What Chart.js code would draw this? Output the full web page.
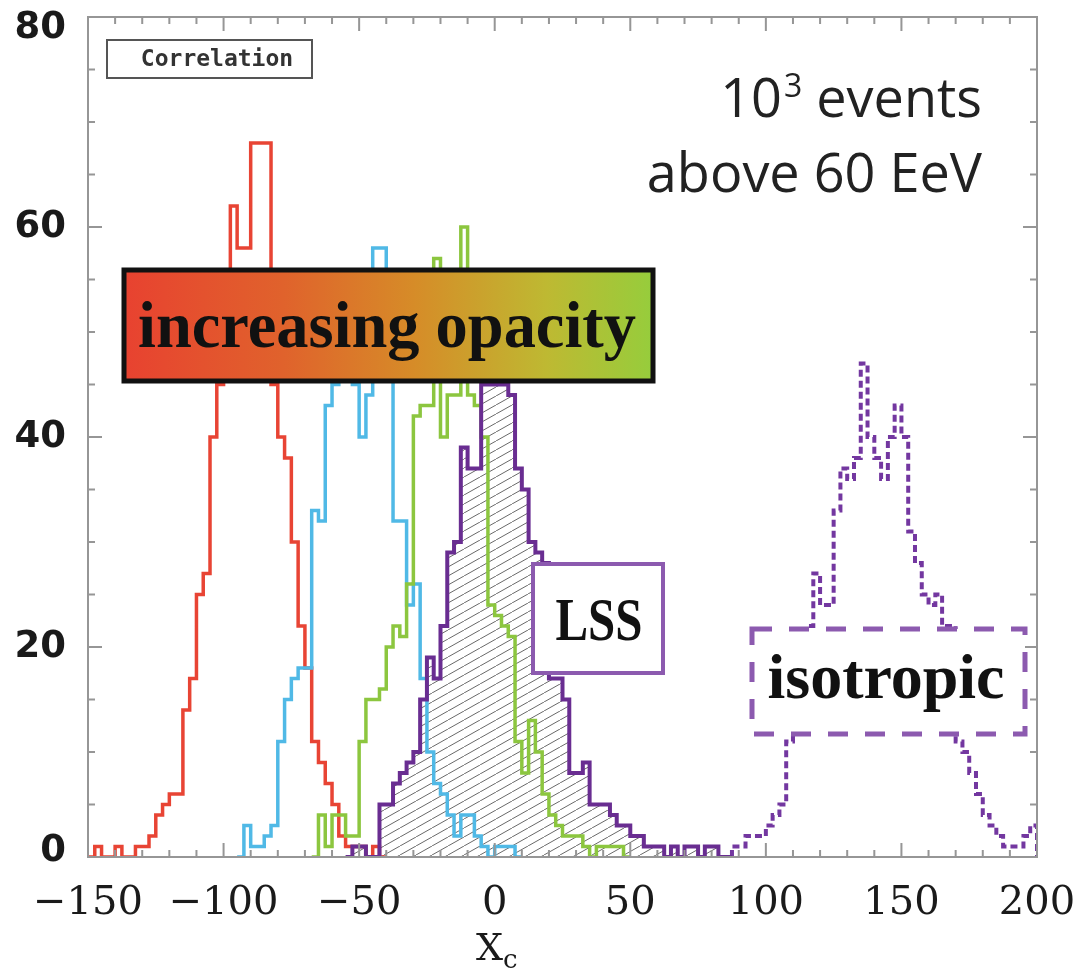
<!DOCTYPE html>
<html>
<head>
<meta charset="utf-8">
<script src="https://cdn.jsdelivr.net/npm/chart.js@4.4.0/dist/chart.umd.min.js"></script>
<style>
  html, body { margin: 0; padding: 0; background: #fff; }
  #wrap { width: 1082px; height: 973px; position: relative; }
</style>
</head>
<body>
<div id="wrap"><canvas id="myChart"></canvas></div>
<script>
// histogram data, bin width 2.5 in X_c, counts per bin starting at the given left edge
const binWidth = 2.5;

const redStart = -150;
const redCounts = [0,1,0,0,1,0,0,1,1,2,4,5,6,6,14,17,25,27,40,45,50,62,58,58,68,68,68,45,40,38,30,22,18,11,9,7,5,2,1,1,1,0,1,0];

const blueStart = -95;
const blueCounts = [0,3,1,1,2,3,11,15,17,18,18,33,32,43,45,50,50,45,40,44,58,58,46,32,32,24,26,17,10,7,6,4,2,4,4,2,1,0,1,1,1,0];

const greenStart = -67.5;
const greenCounts = [0,4,1,4,4,2,2,11,15,15,16,20,22,21,26,42,43,43,57,40,44,44,60,44,43,40,24,23,22,21,11,8,13,10,6,4,3,2,2,2,1,0,1,1,1,1,0];

const lssStart = -55;
const lssCounts = [0,1,1,0,0,5,5,7,8,9,10,15,19,17,22,29,30,39,37,37,45,45,45,45,44,37,35,30,29,28,17,17,15,8,8,9,5,5,5,4,3,3,2,2,1,1,1,0,1,0,1,1,0,1,1,0,0];

const isoStart = 87.5;
const isoCounts = [1,1,2,2,2,3,4,5,11,12,18,22,27,24,24,33,37,36,38,47,40,38,36,40,43,40,31,28,25,24,25,22,22,11,10,8,6,4,3,2,1,1,1,2,3];

const xTicks = [-150, -100, -50, 0, 50, 100, 150, 200];
const yTicks = [0, 20, 40, 60, 80];

function histPoints(start, counts) {
  var pts = [{x: start, y: 0}];
  counts.forEach(function(c, i) { pts.push({x: start + i * binWidth, y: c}); });
  pts.push({x: start + counts.length * binWidth, y: 0});
  return pts;
}

var canvas = document.getElementById('myChart');
var ctx0 = canvas.getContext('2d');

// diagonal hatch for the LSS histogram
var tile = document.createElement('canvas');
tile.width = 16; tile.height = 9;
var tg = tile.getContext('2d');
tg.strokeStyle = 'rgb(105,105,105)';
tg.lineWidth = 1;
tg.beginPath();
tg.moveTo(0, 9); tg.lineTo(16, 0);
tg.moveTo(-16, 9); tg.lineTo(0, 0);
tg.moveTo(16, 9); tg.lineTo(32, 0);
tg.stroke();
var hatch = ctx0.createPattern(tile, 'repeat');

function fitText(ctx, text, cx, base, font, width) {
  ctx.save();
  ctx.font = font;
  var w = ctx.measureText(text).width;
  ctx.translate(cx, base);
  ctx.scale(width / w, 1);
  ctx.textAlign = 'center';
  ctx.textBaseline = 'alphabetic';
  ctx.fillText(text, 0, 0);
  ctx.restore();
}

//=========================== axes frame, ticks, labels, boxes ===========================
const framePlugin = {
  id: 'frame',
  afterDraw: function(chart) {
    var ctx = chart.ctx, a = chart.chartArea;
    var xs = chart.scales.x, ys = chart.scales.y;
    ctx.save();
    ctx.strokeStyle = 'rgb(150,150,150)';
    ctx.lineWidth = 2;
    ctx.strokeRect(a.left, a.top, a.right - a.left, a.bottom - a.top);

    ctx.beginPath();
    for (var v = -150; v <= 200; v += 10) {
      var px = xs.getPixelForValue(v);
      var len = (v % 50 === 0) ? 14 : 7;
      ctx.moveTo(px, a.bottom); ctx.lineTo(px, a.bottom - len);
      ctx.moveTo(px, a.top); ctx.lineTo(px, a.top + len);
    }
    for (var w = 0; w <= 80; w += 5) {
      var py = ys.getPixelForValue(w);
      var l2 = (w % 20 === 0) ? 14 : 7;
      ctx.moveTo(a.left, py); ctx.lineTo(a.left + l2, py);
      ctx.moveTo(a.right, py); ctx.lineTo(a.right - l2, py);
    }
    ctx.stroke();

    // tick labels
    ctx.fillStyle = '#1a1a1a';
    ctx.font = '40px "DejaVu Serif"';
    ctx.textAlign = 'center';
    ctx.textBaseline = 'middle';
    xTicks.forEach(function(t) {
      ctx.fillText(String(t).replace('-', '\u2212'), xs.getPixelForValue(t), 904);
    });
    ctx.font = 'bold 37px "DejaVu Sans"';
    ctx.textAlign = 'right';
    yTicks.forEach(function(t) {
      var py = ys.getPixelForValue(t);
      if (t === 80) py += 11;
      if (t === 0) py -= 6;
      ctx.fillText(String(t), 66, py);
    });

    // axis title X_c
    ctx.textAlign = 'left';
    ctx.textBaseline = 'alphabetic';
    ctx.font = '38px "DejaVu Serif"';
    ctx.fillText('X', 476, 960);
    ctx.font = '26px "DejaVu Serif"';
    ctx.fillText('c', 503, 968);

    // Correlation box
    ctx.strokeStyle = '#555';
    ctx.lineWidth = 2;
    ctx.strokeRect(107, 40, 205, 38);
    ctx.fillStyle = '#333';
    ctx.font = 'bold 23px "DejaVu Sans Mono"';
    ctx.textAlign = 'center';
    ctx.textBaseline = 'middle';
    ctx.fillText('Correlation', 217, 60);

    // 10^3 events above 60 EeV
    ctx.fillStyle = '#222';
    ctx.textBaseline = 'alphabetic';
    ctx.textAlign = 'right';
    ctx.font = '54px "Open Sans"';
    ctx.fillText('events', 982, 117);
    var ew = ctx.measureText(' events').width;
    ctx.font = '32px "Open Sans"';
    ctx.fillText('3', 982 - ew, 97);
    var sw = ctx.measureText('3').width;
    ctx.font = '54px "Open Sans"';
    ctx.fillText('10', 982 - ew - sw - 2, 117);
    ctx.fillText('above 60 EeV', 982, 192);

    // increasing opacity box
    var grad = ctx.createLinearGradient(124, 0, 653, 0);
    grad.addColorStop(0, 'rgb(232,66,48)');
    grad.addColorStop(0.3, 'rgb(224,98,44)');
    grad.addColorStop(0.55, 'rgb(214,140,40)');
    grad.addColorStop(0.8, 'rgb(190,185,50)');
    grad.addColorStop(1, 'rgb(150,205,60)');
    ctx.fillStyle = grad;
    ctx.fillRect(124, 270, 529, 111);
    ctx.strokeStyle = '#111';
    ctx.lineWidth = 5;
    ctx.strokeRect(124, 270, 529, 111);
    ctx.fillStyle = '#111';
    fitText(ctx, 'increasing opacity', 387, 347, 'bold 65px "Liberation Serif"', 498);

    // LSS box
    ctx.fillStyle = '#fff';
    ctx.fillRect(533, 564, 130, 109);
    ctx.strokeStyle = 'rgb(140,90,175)';
    ctx.lineWidth = 4;
    ctx.strokeRect(533, 564, 130, 109);
    ctx.fillStyle = '#111';
    fitText(ctx, 'LSS', 599, 640, 'bold 62px "Liberation Serif"', 87);

    // isotropic dashed box
    ctx.fillStyle = '#fff';
    ctx.fillRect(752, 629, 273, 105);
    ctx.setLineDash([20, 17]);
    ctx.lineWidth = 5;
    ctx.strokeRect(752, 629, 273, 105);
    ctx.setLineDash([]);
    ctx.fillStyle = '#111';
    fitText(ctx, 'isotropic', 886, 698, 'bold 64px "Liberation Serif"', 237);

    ctx.restore();
  }
};

var chart = new Chart(ctx0, {
  type: 'line',
  data: {
    datasets: [
      {
        label: 'LSS',
        data: histPoints(lssStart, lssCounts),
        borderColor: 'rgb(105,45,145)',
        borderWidth: 4,
        stepped: true,
        fill: false,
        order: 1
      },
      {
        label: 'green',
        data: histPoints(greenStart, greenCounts),
        borderColor: 'rgb(140,198,63)',
        borderWidth: 3.5,
        stepped: true,
        fill: false,
        order: 2
      },
      {
        label: 'blue',
        data: histPoints(blueStart, blueCounts),
        borderColor: 'rgb(80,185,230)',
        borderWidth: 3.5,
        stepped: true,
        fill: false,
        order: 3
      },
      {
        label: 'red',
        data: histPoints(redStart, redCounts),
        borderColor: 'rgb(232,68,52)',
        borderWidth: 3.5,
        stepped: true,
        fill: false,
        order: 4
      },
      {
        label: 'isotropic',
        data: histPoints(isoStart, isoCounts),
        borderColor: 'rgb(115,55,160)',
        borderWidth: 4,
        borderDash: [7, 4],
        stepped: true,
        fill: false,
        order: 5
      },
      {
        label: 'LSS hatch',
        data: histPoints(lssStart, lssCounts),
        borderColor: 'rgba(0,0,0,0)',
        borderWidth: 0,
        backgroundColor: hatch,
        stepped: true,
        fill: 'origin',
        order: 6
      }
    ]
  },
  options: {
    responsive: true,
    maintainAspectRatio: false,
    animation: false,
    layout: { padding: { left: 88, right: 45, top: 17, bottom: 116 } },
    elements: { point: { radius: 0 }, line: { tension: 0 } },
    plugins: { legend: { display: false }, tooltip: { enabled: false } },
    scales: {
      x: { type: 'linear', min: -150, max: 200, display: false },
      y: { type: 'linear', min: 0, max: 80, display: false }
    }
  },
  plugins: [framePlugin]
});
</script>
</body>
</html>
